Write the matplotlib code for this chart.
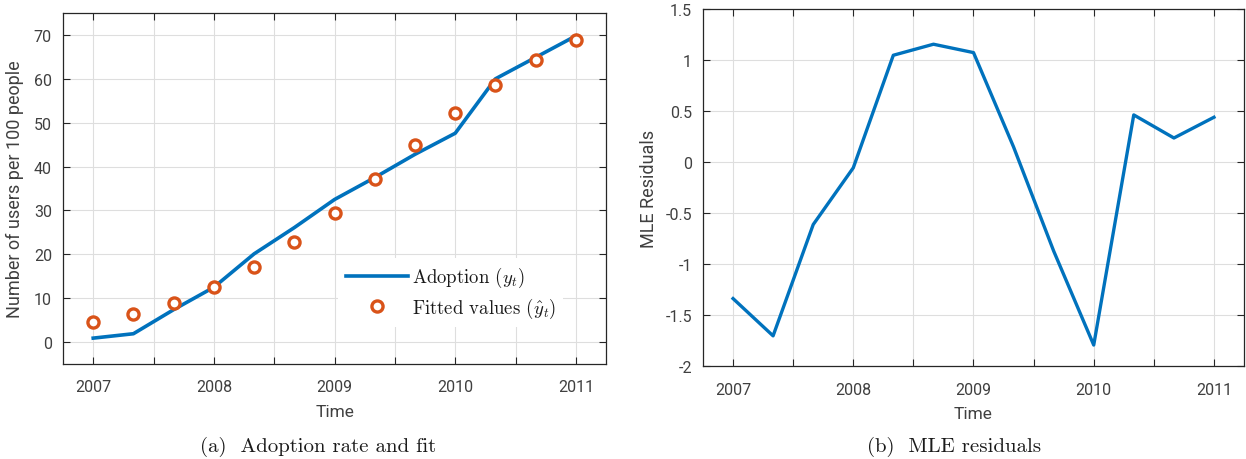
import matplotlib
matplotlib.use("Agg")
import matplotlib.pyplot as plt
from matplotlib.ticker import FixedLocator, FuncFormatter
import numpy as np

# ---------------- data ----------------
time = [2007.0, 2007.333, 2007.667, 2008.0, 2008.333, 2008.667, 2009.0,
        2009.333, 2009.667, 2010.0, 2010.333, 2010.667, 2011.0]
adoption = [0.9, 1.9, 7.4, 12.5, 20.1, 26.1, 32.5, 37.5, 42.8, 47.6, 60.0, 64.9, 69.8]
fitted = [4.5, 6.3, 8.9, 12.6, 17.2, 22.9, 29.5, 37.1, 44.9, 52.2, 58.7, 64.4, 68.8]
residuals = [-1.335, -1.70, -0.61, -0.055, 1.047, 1.155, 1.073, 0.15, -0.87,
             -1.79, 0.463, 0.237, 0.44]
year_ticks = [2007, 2007.5, 2008, 2008.5, 2009, 2009.5, 2010, 2010.5, 2011]
left_yticks = [0, 10, 20, 30, 40, 50, 60, 70]
right_yticks = [-2, -1.5, -1, -0.5, 0, 0.5, 1, 1.5]

BLUE = "#0072BD"
ORANGE = "#D95319"
AXC = "#262626"
TXT = "#404040"

plt.rcParams["mathtext.fontset"] = "cm"
sans = ["Liberation Sans Narrow", "Roboto", "DejaVu Sans"]
serif = ["cmr10", "DejaVu Serif"]

fig = plt.figure(figsize=(12.46, 4.6), dpi=100)
ax1 = fig.add_axes([0.0506, 0.2065, 0.4358, 0.763])
ax2 = fig.add_axes([0.5642, 0.2011, 0.4342, 0.7772])


def style(ax, yticks, ylim):
    ax.set_xlim(2006.75, 2011.25)
    ax.set_ylim(*ylim)
    ax.xaxis.set_major_locator(FixedLocator(year_ticks))
    ax.xaxis.set_major_formatter(FuncFormatter(
        lambda v, p: f"{int(round(v))}" if abs(v - round(v)) < 1e-6 else ""))
    ax.yaxis.set_major_locator(FixedLocator(yticks))
    ax.yaxis.set_major_formatter(FuncFormatter(lambda v, p: f"{v:g}".replace("\u2212", "-")))
    ax.grid(True, color="#dedede", linewidth=0.8)
    ax.set_axisbelow(True)
    ax.tick_params(direction="in", length=5, width=0.8, color=AXC,
                   top=True, right=True, labelcolor=TXT, labelsize=11.5, pad=8)
    ax.tick_params(axis="x", pad=11)
    for lab in ax.get_xticklabels() + ax.get_yticklabels():
        lab.set_family(sans)
    for s in ax.spines.values():
        s.set_color(AXC)
        s.set_linewidth(0.9)
    ax.set_xlabel("Time", family=sans, fontsize=12.5, color=TXT, labelpad=7)


# ---------------- left panel ----------------
style(ax1, left_yticks, (-5, 75))
ax1.plot(time, adoption, color=BLUE, linewidth=2.6, label=r"Adoption ($y_t$)", zorder=3)
ax1.plot(time, fitted, linestyle="none", marker="o", markersize=8,
         markerfacecolor="white", markeredgecolor=ORANGE, markeredgewidth=2.4,
         label=r"Fitted values ($\hat{y}_t$)", zorder=4)
ax1.set_ylabel("Number of users per 100 people", family=sans, fontsize=13,
               color=TXT, labelpad=7)
leg = ax1.legend(loc="upper left", bbox_to_anchor=(0.49, 0.33), frameon=True,
                 facecolor="white", edgecolor="none", framealpha=1,
                 fancybox=False, handlelength=3.3, handletextpad=0.2,
                 borderpad=0.4, labelspacing=0.35,
                 prop={"family": serif, "size": 13.5})
for t in leg.get_texts():
    t.set_color("#1a1a1a")

# ---------------- right panel ----------------
style(ax2, right_yticks, (-2, 1.5))
ax2.plot(time, residuals, color=BLUE, linewidth=2.4, zorder=3)
ax2.set_ylabel("MLE Residuals", family=sans, fontsize=13, color=TXT, labelpad=5)

# ---------------- captions ----------------
fig.text(0.2555, 1 - 447 / 460, "(a)  Adoption rate and fit", ha="center", va="center",
         family=serif, fontsize=15, color="#1a1a1a")
fig.text(0.7655, 1 - 447 / 460, "(b)  MLE residuals", ha="center", va="center",
         family=serif, fontsize=15, color="#1a1a1a")

fig.savefig("out.png", dpi=100, facecolor="white")
